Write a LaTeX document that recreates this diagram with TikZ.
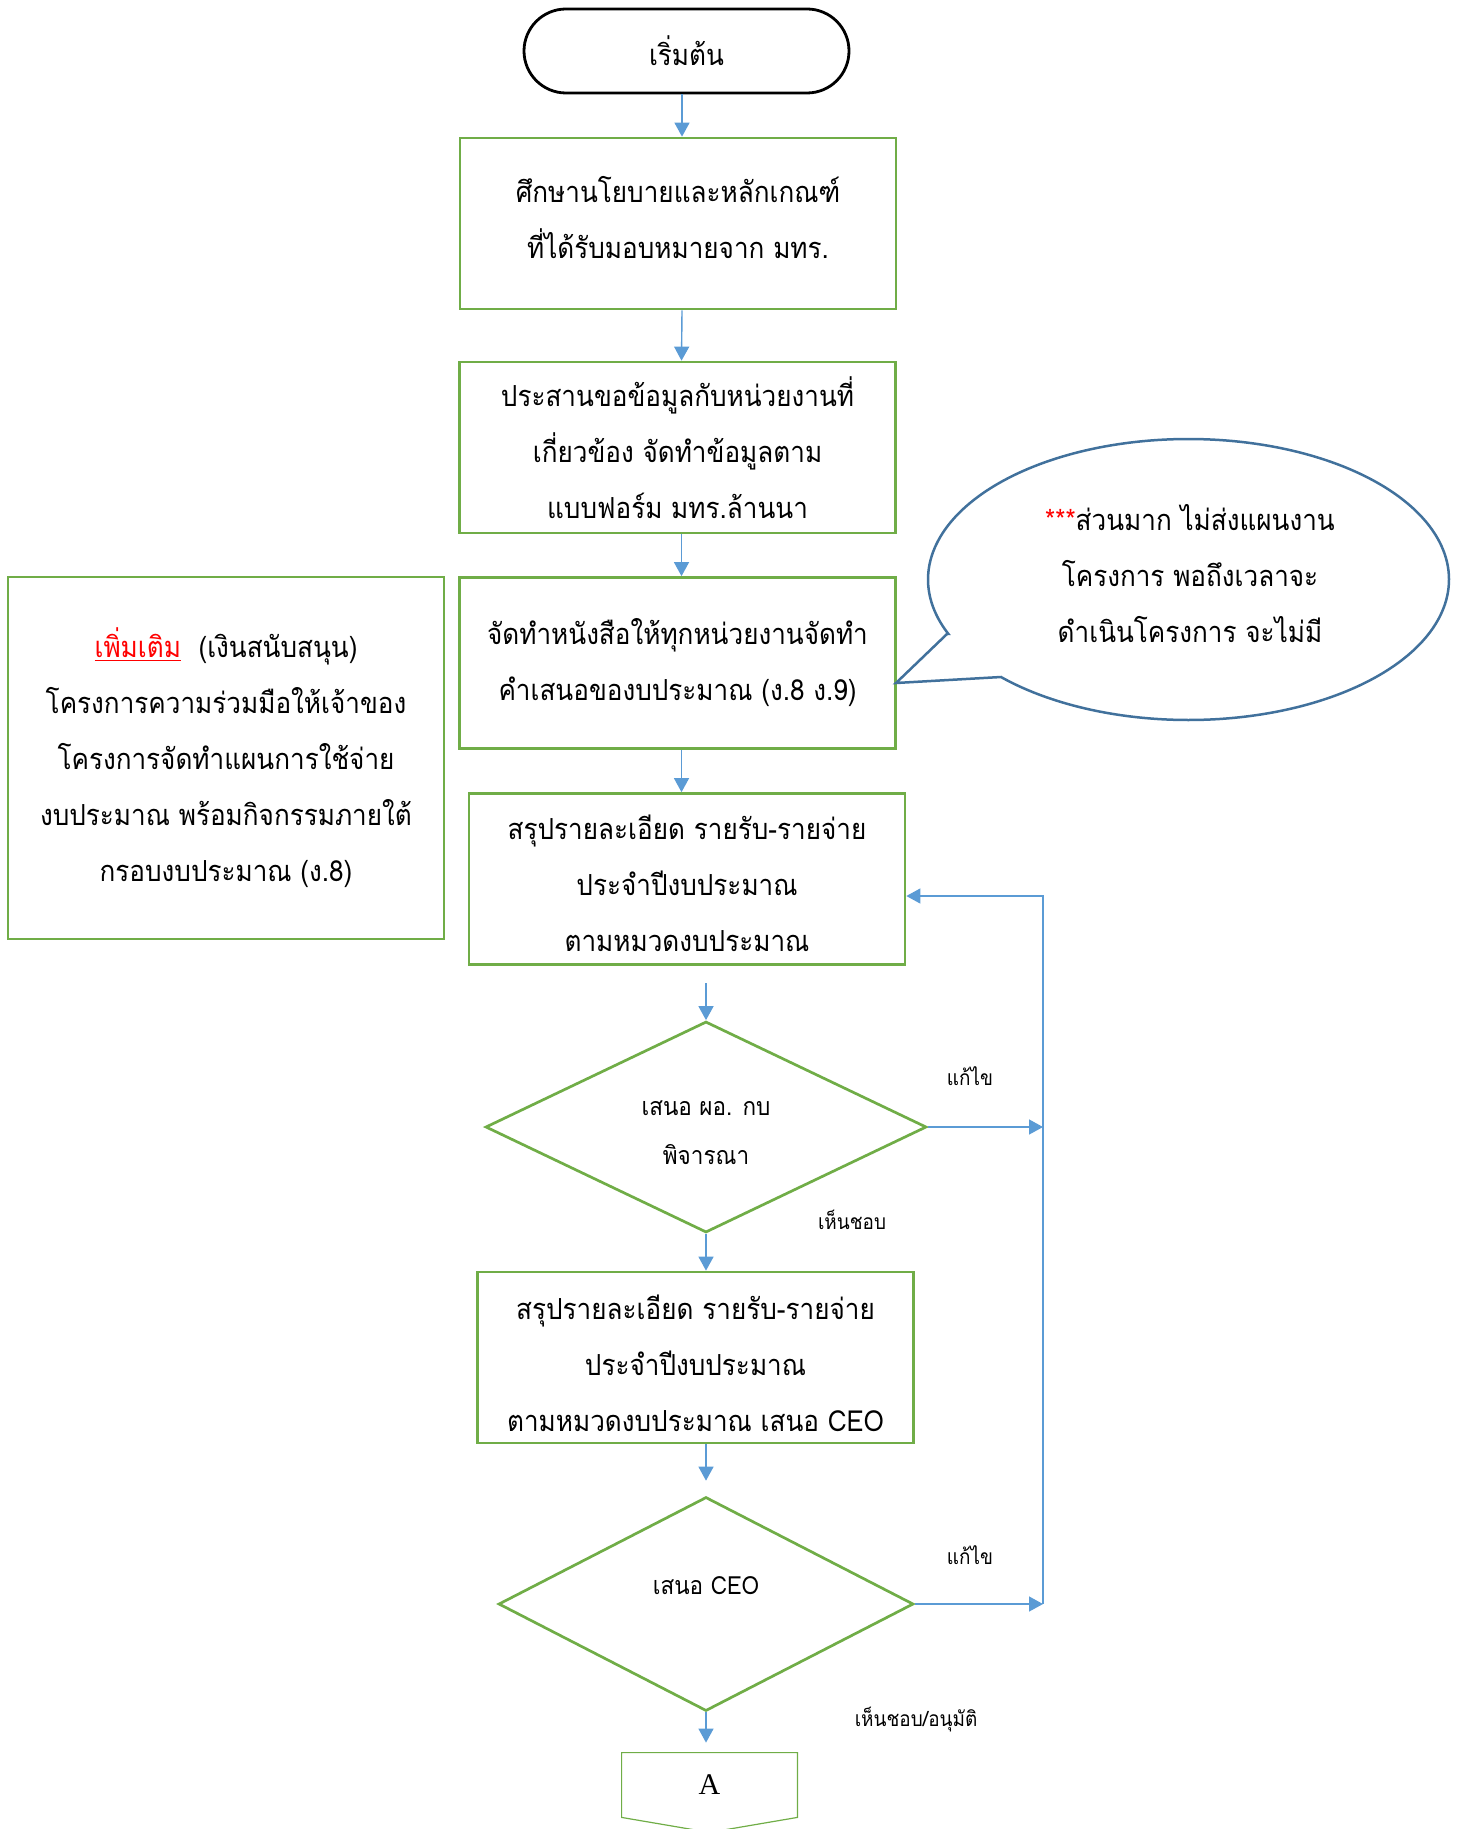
\documentclass[tikz,border=0pt]{standalone}
\usepackage{fontspec}
\setmainfont[Script=Thai, FakeStretch=0.9]{Loma}
\newfontfamily\serifA{Liberation Serif}
\usetikzlibrary{arrows.meta,shapes.geometric}
\definecolor{boxgreen}{HTML}{70AD47}
\definecolor{arrowblue}{HTML}{5B9BD5}
\definecolor{calloutblue}{HTML}{41719C}
\newcommand{\boxfont}{\fontsize{14.5pt}{28pt}\selectfont}
\newcommand{\dfont}{\fontsize{12.5pt}{24.5pt}\selectfont}
\newcommand{\lfont}{\fontsize{10.5pt}{14pt}\selectfont}
\begin{document}
\begin{tikzpicture}[x=0.5pt,y=-0.5pt,
  procbox/.style={draw=boxgreen, line width=1.35pt, minimum width=218pt, minimum height=85.5pt, align=center, inner sep=0pt, font=\boxfont},
  btext/.style={align=center, inner sep=0pt, font=\boxfont},
  startbox/.style={draw=black, line width=1.4pt, rounded corners=21pt, minimum width=162.5pt, minimum height=42pt, inner sep=0pt, font=\boxfont},
  decision/.style={draw=boxgreen, line width=1.35pt, shape=diamond, aspect=2, inner sep=0pt},
  dtext/.style={align=center, font=\dfont, inner sep=0pt},
  flow/.style={draw=arrowblue, line width=0.7pt, -{Triangle[width=7.5pt,length=7pt]}},
  lbl/.style={font=\lfont, inner sep=0pt},
  callout/.style={draw=calloutblue, line width=1.25pt}
]
\useasboundingbox (0,0) rectangle (1463,1829);
\clip (0,0) rectangle (1463,1829);

% nodes
\node[startbox] (start) at (686.5,51) {เริ่มต้น};
\node[procbox] (box1) at (678,223.5) {};
\node[btext] (box1t) at (678,217.7) {ศึกษานโยบายและหลักเกณฑ์\\ที่ได้รับมอบหมายจาก มทร.};
\node[procbox] (box2) at (677.5,447.5) {ประสานขอข้อมูลกับหน่วยงานที่\\เกี่ยวข้อง จัดทำข้อมูลตาม\\แบบฟอร์ม มทร.ล้านนา};
\node[procbox] (box3) at (677.5,663) {จัดทำหนังสือให้ทุกหน่วยงานจัดทำ\\คำเสนอของบประมาณ (ง.8 ง.9)};
\node[procbox] (box4) at (687,879) {};
\node[btext] (box4t) at (687,883.7) {สรุปรายละเอียด รายรับ-รายจ่าย\\ประจำปีงบประมาณ\\ตามหมวดงบประมาณ};
\node[procbox, minimum height=181pt] (leftbox) at (226,758) {\textcolor{red}{\underline{เพิ่มเติม}}\ \ (เงินสนับสนุน)\\โครงการความร่วมมือให้เจ้าของ\\โครงการจัดทำแผนการใช้จ่าย\\งบประมาณ พร้อมกิจกรรมภายใต้\\กรอบงบประมาณ (ง.8)};
\node[decision, minimum width=220.5pt, minimum height=105.5pt] (d1) at (706,1127) {};
\node[dtext] (d1t) at (706,1133) {เสนอ ผอ. กบ\\พิจารณา};
\node[procbox] (box5) at (695.5,1357.5) {};
\node[btext] (box5t) at (695.5,1363.3) {สรุปรายละเอียด รายรับ-รายจ่าย\\ประจำปีงบประมาณ\\ตามหมวดงบประมาณ เสนอ CEO};
\node[decision, minimum width=207.5pt, minimum height=107pt] (d2) at (706,1604) {};
\node[dtext] (d2t) at (706,1586) {เสนอ CEO};
\node[minimum width=87.5pt, minimum height=32pt, inner sep=0pt, font=\serifA\fontsize{15pt}{18pt}\selectfont] (aconn) at (709.5,1785) {A};
\draw[draw=boxgreen, line width=0.6pt] (aconn.north west) -- (aconn.north east) -- (aconn.south east) -- ([yshift=-7.5pt]aconn.south) -- (aconn.south west) -- cycle;

% labels
\node[lbl] (fix1) at (970,1076) {แก้ไข};
\node[lbl] (ok1) at (852,1220) {เห็นชอบ};
\node[lbl] (fix2) at (970,1555) {แก้ไข};
\node[lbl] (ok2) at (916,1720) {เห็นชอบ/อนุมัติ};

% callout
\coordinate (ctip) at (896,683);
\draw[callout, fill=white] (1001,677) -- (ctip) -- (947,634)
  -- plot[domain=157.2:496, samples=200, smooth] ({1188.5+260.5*cos(\x)},{579.5+140.5*sin(\x)}) -- cycle;
\node[font=\boxfont, align=center, inner sep=0pt] (note) at (1190,574) {\textcolor{red}{***}ส่วนมาก ไม่ส่งแผนงาน\\โครงการ พอถึงเวลาจะ\\ดำเนินโครงการ จะไม่มี};

% connectors
\draw[flow] ([xshift=2pt]box1.north |- start.south) -- ([xshift=2pt]box1.north);
\draw[flow] ([xshift=2pt]box1.south) -- ([xshift=2pt]box2.north);
\draw[flow] ([xshift=2pt]box2.south) -- ([xshift=2pt]box3.north);
\draw[flow] ([xshift=2pt]box3.south) -- ([xshift=2pt]box3.south |- box4.north);
\coordinate (c1) at (706,983);
\draw[flow] (c1) -- (d1.north);
\draw[flow] (d1.south) -- (d1.south |- box5.north);
\draw[flow] (d2.north |- box5.south) -- ([yshift=7.5pt]d2.north);
\draw[flow] (d2.south) -- ([yshift=5pt]d2.south |- aconn.north);
\coordinate (r1) at (1043,1127);
\coordinate (r2) at (1043,1604);
\coordinate (rtop) at (1043,896);
\draw[flow] (d1.east) -- (r1);
\draw[flow] (d2.east) -- (r2);
\draw[flow] (r2) -- (rtop) -- (box4.east |- rtop);
\end{tikzpicture}
\end{document}
